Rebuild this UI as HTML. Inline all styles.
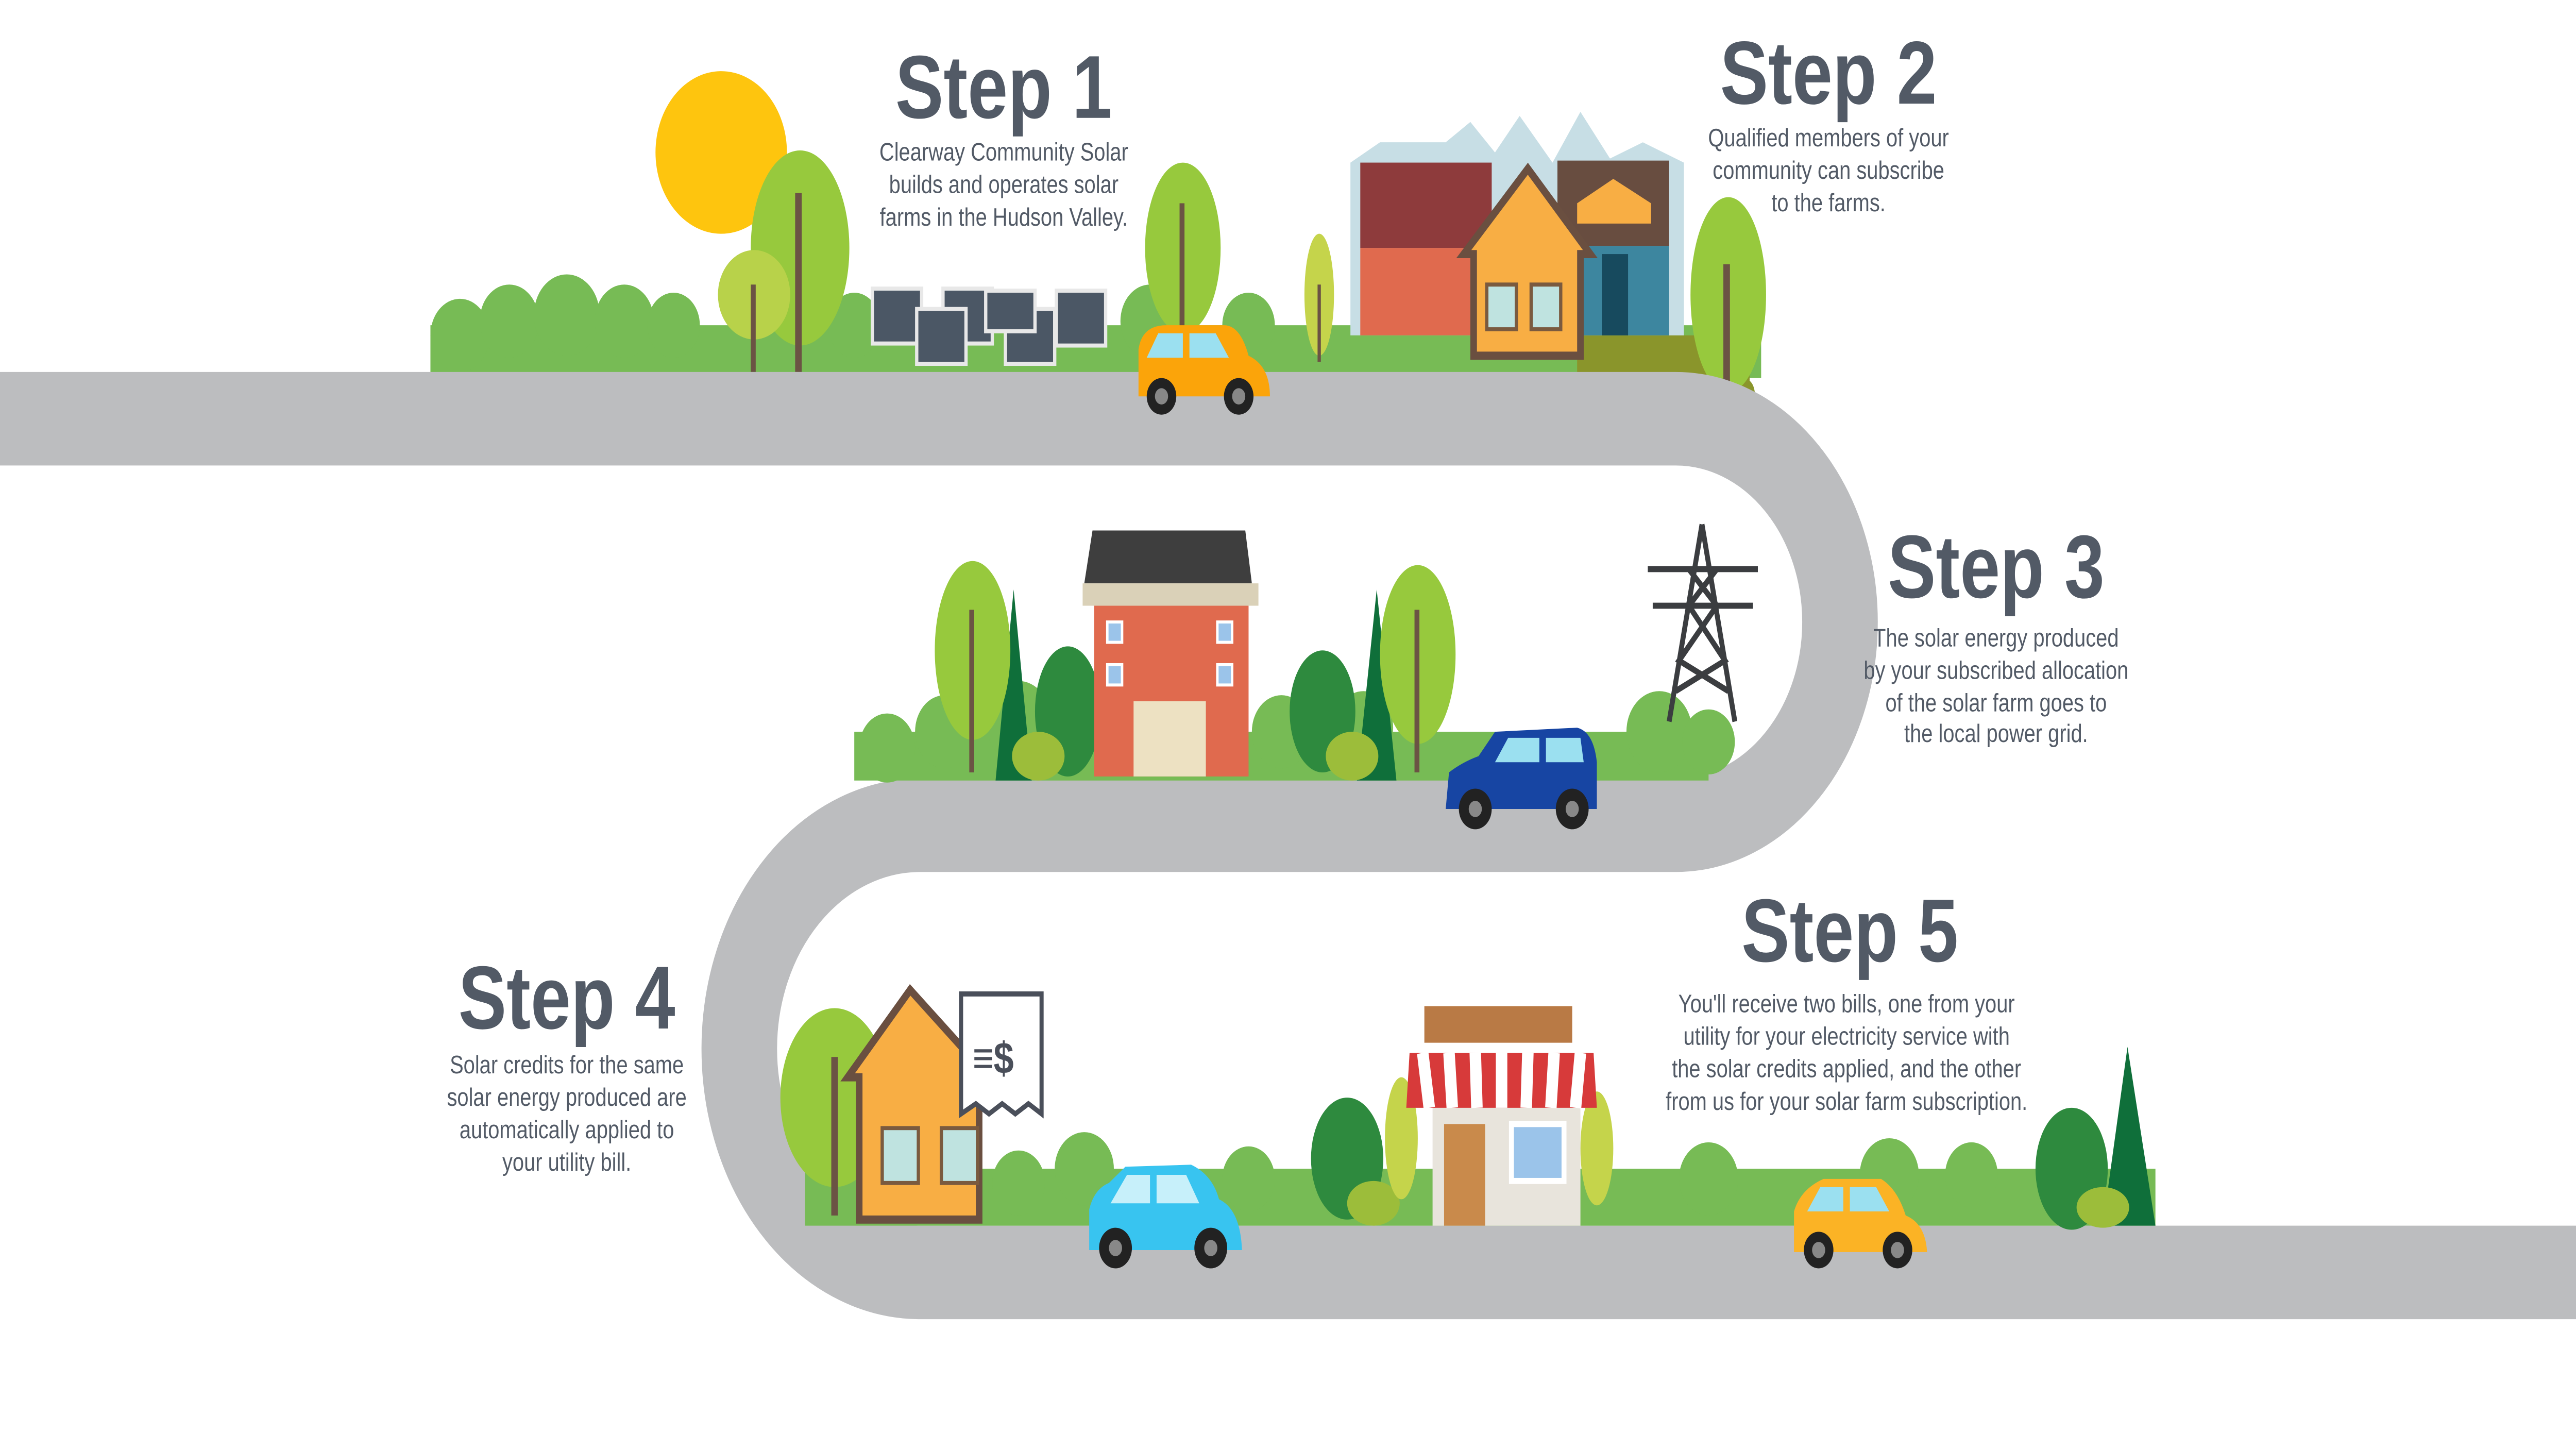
<!DOCTYPE html>
<html><head><meta charset="utf-8"><style>html,body{margin:0;padding:0;background:#fff;overflow:hidden;width:100%;height:100%}svg{display:block;position:fixed;left:0;top:0;width:100vw;height:100vh}</style></head>
<body>
<svg viewBox="0 0 1568 705" preserveAspectRatio="none" xmlns="http://www.w3.org/2000/svg" font-family="Liberation Sans, sans-serif">
<rect width="1568" height="705" fill="#fff"/>
<circle cx="439" cy="75" r="40" fill="#fec50e"/>
<g fill="#77bb55">
<rect x="262" y="160" width="810" height="26"/>
<circle cx="280" cy="165" r="18"/><circle cx="310" cy="158" r="18"/><circle cx="345" cy="155" r="20"/><circle cx="380" cy="158" r="18"/><circle cx="410" cy="160" r="16"/><circle cx="520" cy="160" r="16"/><circle cx="700" cy="158" r="18"/><circle cx="760" cy="160" r="16"/>
</g>
<path d="M960 186 L1060 186 Q1070 186 1068 200 L1020 195 Z" fill="#8a952b"/>
<rect x="960" y="165" width="105" height="25" fill="#8a952b"/>
<path d="M822 80 L840 70 L880 70 L895 60 L910 75 L925 57 L945 80 L962 55 L980 78 L1000 70 L1025 80 L1025 165 L822 165 Z" fill="#c7dee5"/>
<rect x="828" y="80" width="80" height="42" fill="#8e3b3c"/><rect x="828" y="122" width="80" height="43" fill="#e06a4e"/>
<rect x="948" y="79" width="68" height="42" fill="#684d40"/><rect x="948" y="121" width="68" height="44" fill="#3d869f"/>
<path d="M930 83 L968 125 L962 125 L962 175 L897 175 L897 125 L891 125 Z" fill="#f8ae44" stroke="#6a4f40" stroke-width="4"/>
<rect x="905" y="140" width="18" height="22" fill="#bfe3e0" stroke="#7a5a3f" stroke-width="2"/><rect x="932" y="140" width="18" height="22" fill="#bfe3e0" stroke="#7a5a3f" stroke-width="2"/>
<rect x="975" y="125" width="16" height="40" fill="#174a5e"/>
<path d="M960 100 L982 88 L1005 100 L1005 110 L960 110 Z" fill="#f8ae44"/>
<g fill="#4b5765" stroke="#e8e8e8" stroke-width="2">
<rect x="531" y="142" width="30" height="27"/><rect x="574" y="142" width="30" height="27"/><rect x="643" y="143" width="30" height="27"/>
<rect x="558" y="152" width="30" height="27"/><rect x="612" y="152" width="30" height="27"/><rect x="600" y="143" width="30" height="20"/>
</g>
<ellipse cx="487" cy="122" rx="30" ry="48" fill="#97c93d"/><rect x="484" y="95" width="4" height="88" fill="#6b5344"/>
<circle cx="459" cy="145" r="22" fill="#b8d24a"/><rect x="457" y="140" width="3" height="43" fill="#6b5344"/>
<ellipse cx="720" cy="122" rx="23" ry="42" fill="#97c93d"/><rect x="718" y="100" width="3" height="70" fill="#6b5344"/>
<ellipse cx="803" cy="145" rx="9" ry="30" fill="#c5d44b"/><rect x="802" y="140" width="2" height="38" fill="#6b5344"/>
<ellipse cx="1052" cy="145" rx="23" ry="48" fill="#97c93d"/><rect x="1049" y="130" width="4" height="66" fill="#6b5344"/>
<path d="M0 206 L1020 206 A100 100 0 0 1 1020 406 L560 406 A110 110 0 0 0 560 626 L1568 626" fill="none" stroke="#bcbdbf" stroke-width="46"/>
<path d="M693 195 L693 172 Q695 160 710 160 L745 160 Q755 160 760 175 Q773 180 773 195 Z" fill="#fba40a"/>
<path d="M698 176 L705 164 L720 164 L720 176 Z M724 176 L724 164 L740 164 L748 176 Z" fill="#9be0f0"/>
<circle cx="707" cy="195" r="9" fill="#222"/><circle cx="754" cy="195" r="9" fill="#222"/><circle cx="707" cy="195" r="4" fill="#888"/><circle cx="754" cy="195" r="4" fill="#888"/>
<g fill="#77bb55">
<rect x="520" y="360" width="520" height="24"/>
<circle cx="540" cy="368" r="17"/><circle cx="575" cy="360" r="18"/><circle cx="620" cy="355" r="20"/><circle cx="780" cy="360" r="18"/><circle cx="830" cy="358" r="18"/><circle cx="1010" cy="360" r="20"/><circle cx="1040" cy="365" r="16"/>
</g>
<path d="M617 290 L628 384 L606 384 Z" fill="#0f6f3a"/><path d="M838 290 L850 384 L826 384 Z" fill="#0f6f3a"/>
<ellipse cx="650" cy="350" rx="20" ry="32" fill="#2e8a3e"/><ellipse cx="805" cy="350" rx="20" ry="30" fill="#2e8a3e"/>
<ellipse cx="592" cy="320" rx="23" ry="44" fill="#97c93d"/><rect x="590" y="300" width="3" height="80" fill="#6b5344"/>
<ellipse cx="863" cy="322" rx="23" ry="44" fill="#97c93d"/><rect x="861" y="300" width="3" height="80" fill="#6b5344"/>
<ellipse cx="632" cy="372" rx="16" ry="12" fill="#9cbd3a"/><ellipse cx="823" cy="372" rx="16" ry="12" fill="#9cbd3a"/>
<path d="M665 261 L758 261 L762 287 L660 287 Z" fill="#3e3e3e"/>
<rect x="659" y="287" width="107" height="11" fill="#dad1b8"/>
<rect x="666" y="298" width="94" height="84" fill="#e06a4e"/>
<rect x="690" y="345" width="44" height="37" fill="#ede1c2"/>
<g fill="#9bc4ea" stroke="#fff" stroke-width="1.5"><rect x="674" y="306" width="9" height="10"/><rect x="741" y="306" width="9" height="10"/><rect x="674" y="327" width="9" height="10"/><rect x="741" y="327" width="9" height="10"/></g>
<g stroke="#3b3d40" stroke-width="3" fill="none">
<path d="M1036 258 L1016 355 M1036 258 L1056 355 M1003 280 L1070 280 M1006 298 L1067 298 M1028 280 L1045 298 L1022 325 L1052 340 M1045 280 L1028 298 L1050 325 L1020 340"/>
</g>
<path d="M880 398 L882 380 Q890 375 900 372 L910 360 L960 358 Q970 360 972 375 L972 398 Z" fill="#1745a3"/>
<path d="M910 375 L918 363 L937 363 L937 375 Z M941 375 L941 363 L962 363 L964 375 Z" fill="#9be0f0"/>
<circle cx="898" cy="398" r="10" fill="#222"/><circle cx="957" cy="398" r="10" fill="#222"/><circle cx="898" cy="398" r="4" fill="#888"/><circle cx="957" cy="398" r="4" fill="#888"/>
<g fill="#77bb55">
<rect x="490" y="575" width="822" height="28"/>
<circle cx="540" cy="575" r="20"/><circle cx="620" cy="582" r="16"/><circle cx="660" cy="575" r="18"/><circle cx="760" cy="580" r="16"/><circle cx="1040" cy="580" r="18"/><circle cx="1150" cy="578" r="18"/><circle cx="1200" cy="578" r="16"/>
</g>
<ellipse cx="508" cy="540" rx="33" ry="44" fill="#97c93d"/><rect x="506" y="520" width="4" height="78" fill="#6b5344"/>
<path d="M1295 515 L1312 603 L1280 603 Z" fill="#0f6f3a"/>
<ellipse cx="1261" cy="575" rx="22" ry="30" fill="#2e8a3e"/><ellipse cx="1280" cy="594" rx="16" ry="10" fill="#9cbd3a"/>
<ellipse cx="820" cy="570" rx="22" ry="30" fill="#2e8a3e"/><ellipse cx="836" cy="592" rx="16" ry="11" fill="#9cbd3a"/>
<ellipse cx="853" cy="560" rx="10" ry="30" fill="#c5d44b"/><ellipse cx="972" cy="565" rx="10" ry="28" fill="#c5d44b"/>
<path d="M554 487 L602 530 L596 530 L596 600 L523 600 L523 530 L516 530 Z" fill="#f8ae44" stroke="#6a4f40" stroke-width="4"/>
<rect x="537" y="555" width="22" height="27" fill="#bfe3e0" stroke="#7a5a3f" stroke-width="2"/><rect x="573" y="555" width="22" height="27" fill="#bfe3e0" stroke="#7a5a3f" stroke-width="2"/>
<path d="M585 489 L634 489 L634 548 L626 543 L618 548 L610 543 L602 548 L594 543 L585 548 Z" fill="#fff" stroke="#4a4f5a" stroke-width="2.5"/>
<text x="592" y="528" font-size="22" fill="#4a4f5a" font-weight="bold">≡$</text>
<rect x="867" y="495" width="90" height="18" fill="#b97a45"/>
<rect x="872" y="530" width="90" height="73" fill="#e8e4dc"/>
<path d="M858 518 L970 518 L972 545 L856 545 Z" fill="#d73a3a"/>
<path d="M866 518 L870 545 M882 518 L884 545 M898 518 L899 545 M914 518 L914 545 M930 518 L929 545 M946 518 L944 545 M962 518 L959 545" stroke="#fff" stroke-width="7"/>
<rect x="879" y="553" width="25" height="50" fill="#c98a4b"/><rect x="920" y="553" width="32" height="28" fill="#9bc4ea" stroke="#fff" stroke-width="3"/>
<path d="M663 615 L663 595 Q666 585 675 582 L685 574 L725 573 Q738 578 742 590 Q755 595 756 615 Z" fill="#38c4f0"/>
<path d="M676 592 L686 578 L700 578 L700 592 Z M704 592 L704 578 L722 578 L730 592 Z" fill="#c7f0fa"/>
<circle cx="679" cy="614" r="10" fill="#222"/><circle cx="737" cy="614" r="10" fill="#222"/><circle cx="679" cy="614" r="4" fill="#888"/><circle cx="737" cy="614" r="4" fill="#888"/>
<path d="M1092 616 L1092 596 Q1096 585 1110 580 L1145 580 Q1155 585 1160 598 Q1172 602 1173 616 Z" fill="#fbb325"/>
<path d="M1100 596 L1108 584 L1122 584 L1122 596 Z M1126 596 L1126 584 L1142 584 L1150 596 Z" fill="#9be0f0"/>
<circle cx="1107" cy="615" r="9" fill="#222"/><circle cx="1155" cy="615" r="9" fill="#222"/><circle cx="1107" cy="615" r="4" fill="#888"/><circle cx="1155" cy="615" r="4" fill="#888"/>
<g fill="#525a66" text-anchor="middle">
<g font-weight="bold" font-size="44">
<text x="611" y="58">Step 1</text>
<text x="1113" y="51">Step 2</text>
<text x="1215" y="294">Step 3</text>
<text x="345" y="506">Step 4</text>
<text x="1126" y="473">Step 5</text>
</g>
<g font-size="12.5">
<text x="611" y="79">Clearway Community Solar</text>
<text x="611" y="95">builds and operates solar</text>
<text x="611" y="111">farms in the Hudson Valley.</text>
<text x="1113" y="72">Qualified members of your</text>
<text x="1113" y="88">community can subscribe</text>
<text x="1113" y="104">to the farms.</text>
<text x="1215" y="318">The solar energy produced</text>
<text x="1215" y="334">by your subscribed allocation</text>
<text x="1215" y="350">of the solar farm goes to</text>
<text x="1215" y="365">the local power grid.</text>
<text x="345" y="528">Solar credits for the same</text>
<text x="345" y="544">solar energy produced are</text>
<text x="345" y="560">automatically applied to</text>
<text x="345" y="576">your utility bill.</text>
<text x="1124" y="498">You'll receive two bills, one from your</text>
<text x="1124" y="514">utility for your electricity service with</text>
<text x="1124" y="530">the solar credits applied, and the other</text>
<text x="1124" y="546">from us for your solar farm subscription.</text>
</g>
</g>
</svg>
</body></html>
